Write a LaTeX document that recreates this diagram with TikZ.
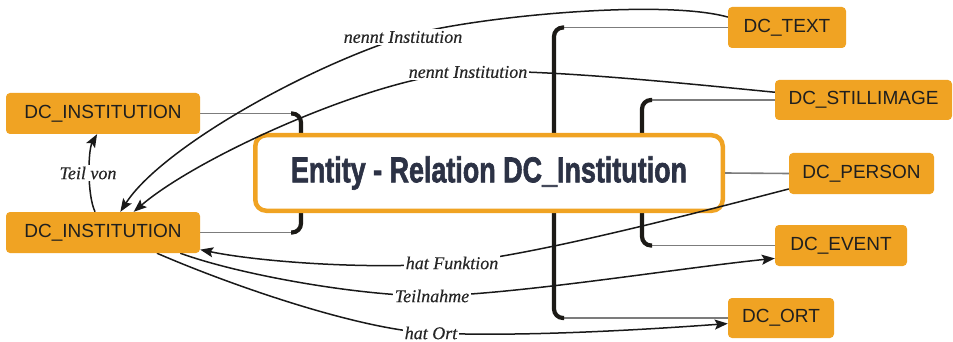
\documentclass[tikz,border=0pt]{standalone}
\usepackage{fontspec}
\usepackage{graphicx}
\setmainfont{Liberation Sans}
\newfontfamily\labfont[FakeBold=0.4]{Liberation Serif}
\newfontfamily\titlefont[FakeBold=2]{Liberation Sans Bold}
\usetikzlibrary{arrows.meta}
\definecolor{dcorange}{HTML}{F0A323}
\definecolor{titlecol}{HTML}{2C3245}
\definecolor{twigcol}{HTML}{7C7C7C}
\definecolor{spinecol}{HTML}{1C1A16}
\pgfdeclarelayer{back}
\pgfdeclarelayer{mid}
\pgfsetlayers{back,mid,main}
\begin{document}
\begin{tikzpicture}[x=1pt,y=-1pt,
  box/.style={fill=dcorange, rounded corners=4pt, inner sep=0pt, text=black!88,
    font=\fontsize{19}{22}\selectfont},
  lab/.style={fill=white, inner sep=1.5pt, text=black!85,
    font=\labfont\itshape\fontsize{18}{20}\selectfont},
  rel/.style={draw=black!90, line width=1.5pt},
  arr/.style={-{Stealth[length=13pt,width=10pt,inset=2.5pt]}},
  twig/.style={draw=twigcol, line width=1.6pt},
  spine/.style={draw=spinecol, line width=4.2pt, rounded corners=9pt}]
\begin{pgfonlayer}{back}
\fill[white] (0,0) rectangle (953,342);
\end{pgfonlayer}
\useasboundingbox (0,0) rectangle (953,342);

% entity nodes
\node[box, minimum width=194pt, minimum height=41pt] (inst1) at (103,113.5) {DC\_INSTITUTION};
\node[box, minimum width=194pt, minimum height=41pt] (inst2) at (103,232.5) {DC\_INSTITUTION};
\node[box, minimum width=118pt, minimum height=41pt] (dctext) at (787,27.5) {DC\_TEXT};
\node[box, minimum width=177pt, minimum height=40pt] (still) at (863.5,100) {DC\_STILLIMAGE};
\node[box, minimum width=145pt, minimum height=41pt] (person) at (861.5,173.5) {DC\_PERSON};
\node[box, minimum width=132pt, minimum height=41pt] (event) at (841,245.5) {DC\_EVENT};
\node[box, minimum width=106pt, minimum height=40pt] (ort) at (781,318) {DC\_ORT};

% label nodes
\node[lab] (l1) at (403,37) {nennt Institution};
\node[lab] (l2) at (468,72) {nennt Institution};
\node[lab] (l3) at (88,173) {Teil von};
\node[lab] (l4) at (452,263) {hat Funktion};
\node[lab] (l5) at (432,296) {Teilnahme};
\node[lab] (l6) at (431,333) {hat Ort};

% spine coordinates
\coordinate (lsA) at (301,113.5);
\coordinate (lsB) at (301,232.5);
\coordinate (lsAe) at (291,113.5);
\coordinate (lsBe) at (291,232.5);
\coordinate (msA) at (554,27.5);
\coordinate (msB) at (554,318);
\coordinate (msAe) at (564,27.5);
\coordinate (msBe) at (564,318);
\coordinate (rsA) at (642,100);
\coordinate (rsB) at (642,245.5);
\coordinate (rsAe) at (652,100);
\coordinate (rsBe) at (652,245.5);

\begin{pgfonlayer}{back}
% twigs
\draw[twig] (inst1.east) -- (lsAe);
\draw[twig] (inst2.east) -- (lsBe);
\draw[twig] (msAe) -- (dctext.west);
\draw[twig] (msBe) -- (ort.west);
\draw[twig] (rsAe) -- (still.west);
\draw[twig] (rsBe) -- (event.west);
% spines
\draw[spine] (lsAe) -- (lsA) -- (lsB) -- (lsBe);
\draw[spine] (msAe) -- (msA) -- (msB) -- (msBe);
\draw[spine] (rsAe) -- (rsA) -- (rsB) -- (rsBe);
% central node
\node[draw=dcorange, line width=4.5pt, fill=white, rounded corners=11pt,
  minimum width=467.5pt, minimum height=75.5pt, inner sep=0pt] (main) at (489,173)
  {\color{titlecol}\resizebox{396pt}{26pt}{\titlefont Entity - Relation DC\_Institution}};
\draw[twig] (main.east) -- (person.west);
\end{pgfonlayer}

\begin{pgfonlayer}{mid}
% relations
\draw[rel, arr] (dctext.170) .. controls (660,-2) and (463,18) .. (l1.center)
  .. controls (300,70) and (160,150) .. (inst2.50);
\draw[rel, arr] (still.175) .. controls (700,85) and (540,68) .. (l2.center)
  .. controls (380,75) and (200,155) .. (inst2.34);
\draw[rel, arr] (inst2.111) .. controls (87,195) and (88,150) .. (inst1.254);
\draw[rel, arr] (person.192) .. controls (700,212) and (532,256) .. (l4.center)
  .. controls (372,270) and (260,262) .. (inst2.-10);
\draw[rel, arr] (inst2.-15.5) .. controls (240,275) and (360,296) .. (l5.center)
  .. controls (520,294) and (680,268) .. (event.191);
\draw[rel, arr] (inst2.-21.5) .. controls (230,285) and (360,330) .. (l6.center)
  .. controls (520,337) and (640,330) .. (ort.186.5);
\end{pgfonlayer}
\end{tikzpicture}
\end{document}
